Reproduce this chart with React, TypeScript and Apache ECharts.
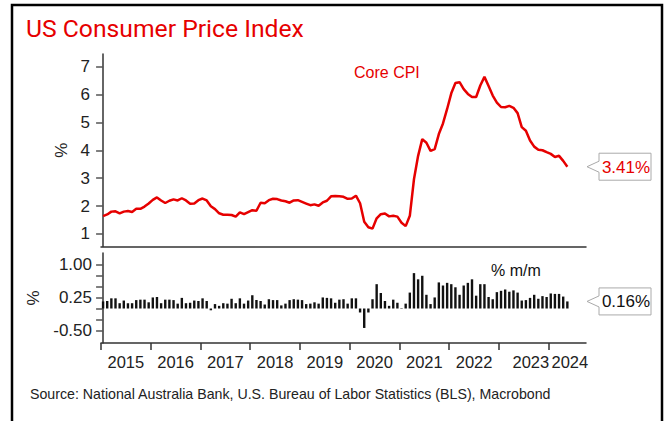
import React, { useEffect, useRef } from "react";
import * as echarts from "echarts";

// Months indexed from Jan 2015 (0) to May 2024 (112)
const coreCpiYoY: number[] = [
  1.64, 1.7, 1.8, 1.81, 1.74, 1.8, 1.82, 1.79, 1.9, 1.9, 1.98, 2.09,
  2.22, 2.31, 2.2, 2.11, 2.19, 2.24, 2.2, 2.28, 2.2, 2.08, 2.09, 2.21,
  2.27, 2.2, 1.99, 1.89, 1.74, 1.69, 1.69, 1.68, 1.62, 1.77, 1.71, 1.78,
  1.85, 1.83, 2.12, 2.1, 2.21, 2.26, 2.25, 2.2, 2.17, 2.12, 2.2, 2.21,
  2.15, 2.09, 2.03, 2.06, 2.01, 2.13, 2.19, 2.35, 2.36, 2.35, 2.33, 2.26,
  2.27, 2.37, 2.1, 1.44, 1.24, 1.19, 1.56, 1.71, 1.73, 1.63, 1.65, 1.62,
  1.4, 1.28, 1.65, 2.96, 3.8, 4.4, 4.27, 3.98, 4.04, 4.58, 4.96, 5.48,
  6.04, 6.41, 6.44, 6.19, 6.02, 5.91, 5.91, 6.32, 6.63, 6.3, 5.96, 5.71,
  5.55, 5.54, 5.59, 5.52, 5.33, 4.83, 4.7, 4.35, 4.13, 4.02, 4.0, 3.93,
  3.87, 3.76, 3.8, 3.62, 3.41,
];

const coreCpiMoM: number[] = [
  0.16, 0.17, 0.23, 0.23, 0.12, 0.18, 0.12, 0.12, 0.19, 0.2, 0.2, 0.14,
  0.25, 0.26, 0.12, 0.2, 0.2, 0.19, 0.11, 0.24, 0.12, 0.13, 0.18, 0.17,
  0.23, 0.17, -0.04, 0.1, 0.06, 0.12, 0.11, 0.22, 0.12, 0.23, 0.11, 0.18,
  0.3, 0.19, 0.17, 0.09, 0.21, 0.19, 0.19, 0.07, 0.11, 0.19, 0.21, 0.2,
  0.19, 0.1, 0.11, 0.14, 0.11, 0.25, 0.24, 0.23, 0.13, 0.2, 0.21, 0.11,
  0.23, 0.23, -0.09, -0.44, -0.09, 0.21, 0.55, 0.35, 0.17, 0.06, 0.2, 0.13,
  0.01, 0.11, 0.36, 0.8, 0.66, 0.74, 0.31, 0.1, 0.25, 0.59, 0.52, 0.58,
  0.55, 0.48, 0.31, 0.52, 0.58, 0.66, 0.29, 0.55, 0.55, 0.26, 0.21, 0.37,
  0.4, 0.43, 0.38, 0.41, 0.36, 0.18, 0.19, 0.24, 0.31, 0.22, 0.28, 0.26,
  0.34, 0.33, 0.33, 0.27, 0.16,
];

const firstYear = 2015;
const yearTicks: number[] = [-0.5, 11.5, 23.5, 35.5, 47.5, 59.5, 71.5, 83.5, 95.5, 107.5];
const yearLabelPos: number[] = [5.5, 17.5, 29.5, 41.5, 53.5, 65.5, 77.5, 89.5, 103.2];
const lastYearLabelPos: number[] = [112.6];
const topTicks: number[] = [1, 2, 3, 4, 5, 6, 7];
const bottomTicks: number[] = [-0.5, -0.25, 0, 0.25, 0.5, 0.75, 1.0];
const bottomLabels: number[] = [-0.5, 0.25, 1.0];

const RED = "#e60000";
const FONT = "Liberation Sans, Arial, sans-serif";

export default function App() {
  const ref = useRef<HTMLDivElement>(null);

  useEffect(() => {
    if (!ref.current) return;
    const chart = echarts.init(ref.current, undefined, { renderer: "svg" });

    const lineData = coreCpiYoY.map((v, i) => [i, v]);
    const barData = coreCpiMoM.map((v, i) => [i, v]);

    const axisLineStyle = { color: "#333", width: 1.5 };
    const yearFormatter = (v: number) => String(firstYear + Math.floor((v + 0.5) / 12));
    const yearLabelStyle = {
      margin: 10,
      fontSize: 16.5,
      fontFamily: FONT,
      color: "#222",
      hideOverlap: false,
      formatter: yearFormatter,
    };

    const option: any = {
      animation: false,
      grid: [
        { left: 101, right: 84, top: 54, height: 192.5 },
        { left: 101, right: 84, top: 253, height: 90 },
      ],
      xAxis: [
        {
          type: "value",
          gridIndex: 0,
          min: -0.5,
          max: 116.5,
          axisLine: { show: true, lineStyle: axisLineStyle },
          axisTick: { show: false },
          axisLabel: { show: false },
          splitLine: { show: false },
        },
        {
          type: "value",
          gridIndex: 1,
          min: -0.5,
          max: 116.5,
          axisLine: { show: true, onZero: false, lineStyle: axisLineStyle },
          axisTick: {
            show: true,
            length: 7,
            customValues: yearTicks,
            lineStyle: { color: "#333", width: 1.5 },
          },
          axisLabel: { show: true, customValues: yearLabelPos, ...yearLabelStyle },
          splitLine: { show: false },
        },
        {
          type: "value",
          gridIndex: 1,
          position: "bottom",
          min: -0.5,
          max: 116.5,
          axisLine: { show: false, onZero: false },
          axisTick: { show: false },
          axisLabel: { show: true, customValues: lastYearLabelPos, ...yearLabelStyle },
          splitLine: { show: false },
        },
      ],
      yAxis: [
        {
          type: "value",
          gridIndex: 0,
          min: 0.55,
          max: 7.45,
          name: "%",
          nameLocation: "middle",
          nameGap: 28,
          nameRotate: 90,
          nameTextStyle: { fontSize: 17, fontFamily: FONT, color: "#222" },
          axisLine: { show: true, lineStyle: axisLineStyle },
          axisTick: {
            show: true,
            length: 7,
            customValues: topTicks,
            lineStyle: { color: "#555", width: 1.5 },
          },
          axisLabel: {
            customValues: topTicks,
            margin: 11,
            fontSize: 17,
            fontFamily: FONT,
            color: "#222",
          },
          splitLine: { show: false },
        },
        {
          type: "value",
          gridIndex: 1,
          min: -0.78,
          max: 1.255,
          name: "%",
          nameLocation: "middle",
          nameGap: 43,
          nameRotate: 90,
          nameTextStyle: { fontSize: 17, fontFamily: FONT, color: "#222" },
          axisLine: { show: true, lineStyle: axisLineStyle },
          axisTick: {
            show: true,
            length: 7,
            customValues: bottomTicks,
            lineStyle: { color: "#555", width: 1.5 },
          },
          axisLabel: {
            customValues: bottomLabels,
            margin: 9,
            fontSize: 17,
            fontFamily: FONT,
            color: "#222",
            formatter: (v: number) => v.toFixed(2),
          },
          splitLine: { show: false },
        },
      ],
      series: [
        {
          type: "line",
          xAxisIndex: 0,
          yAxisIndex: 0,
          data: lineData,
          showSymbol: false,
          lineStyle: { color: RED, width: 2.5 },
          itemStyle: { color: RED },
        },
        {
          type: "bar",
          xAxisIndex: 1,
          yAxisIndex: 1,
          data: barData,
          barWidth: 2.4,
          itemStyle: { color: "#111" },
        },
      ],
    };

    chart.setOption(option);

    const lastLine = coreCpiYoY[coreCpiYoY.length - 1];
    const lastBar = coreCpiMoM[coreCpiMoM.length - 1];
    const yTop = chart.convertToPixel({ yAxisIndex: 0 }, lastLine) as number;
    const yBot = chart.convertToPixel({ yAxisIndex: 1 }, lastBar) as number;
    const tipX = (chart.convertToPixel({ xAxisIndex: 0 }, 116.5) as number) + 1;

    const callout = (cy: number, label: string, color: string) => {
      const x0 = tipX + 12;
      const x1 = x0 + 52;
      const h = 13.5;
      return [
        {
          type: "polygon",
          shape: {
            points: [
              [x0, cy - h],
              [x1, cy - h],
              [x1, cy + h],
              [x0, cy + h],
              [x0, cy + 5.5],
              [tipX, cy],
              [x0, cy - 5.5],
            ],
          },
          style: { fill: "#fff", stroke: "#aaa", lineWidth: 1 },
        },
        {
          type: "text",
          x: (x0 + x1) / 2 + 1,
          y: cy + 0.5,
          style: {
            text: label,
            fill: color,
            fontSize: 17,
            fontFamily: FONT,
            textAlign: "center",
            textVerticalAlign: "middle",
          },
        },
      ];
    };

    chart.setOption({
      graphic: [
        {
          type: "rect",
          shape: { x: 12, y: 5, width: 650, height: 440 },
          style: { fill: "none", stroke: "#000", lineWidth: 2.5 },
          silent: true,
        },
        {
          type: "text",
          x: 26,
          y: 28,
          style: {
            text: "US Consumer Price Index",
            fill: RED,
            fontSize: 24.7,
            fontFamily: "Roboto, sans-serif",
            textVerticalAlign: "middle",
          },
        },
        {
          type: "text",
          x: 354,
          y: 72,
          style: {
            text: "Core CPI",
            fill: RED,
            fontSize: 16,
            fontFamily: FONT,
            textVerticalAlign: "middle",
          },
        },
        {
          type: "text",
          x: 491,
          y: 270,
          style: {
            text: "% m/m",
            fill: "#111",
            fontSize: 16,
            fontFamily: FONT,
            textVerticalAlign: "middle",
          },
        },
        {
          type: "text",
          x: 30,
          y: 394,
          style: {
            text: "Source: National Australia Bank, U.S. Bureau of Labor Statistics (BLS), Macrobond",
            fill: "#222",
            fontSize: 14.2,
            fontFamily: FONT,
            textVerticalAlign: "middle",
          },
        },
        ...callout(yTop, lastLine.toFixed(2) + "%", RED),
        ...callout(yBot, lastBar.toFixed(2) + "%", "#111"),
      ],
    });

    return () => chart.dispose();
  }, []);

  return (
    <div
      ref={ref}
      style={{ position: "fixed", left: 0, top: 0, width: 670, height: 421, background: "#fff" }}
    />
  );
}
